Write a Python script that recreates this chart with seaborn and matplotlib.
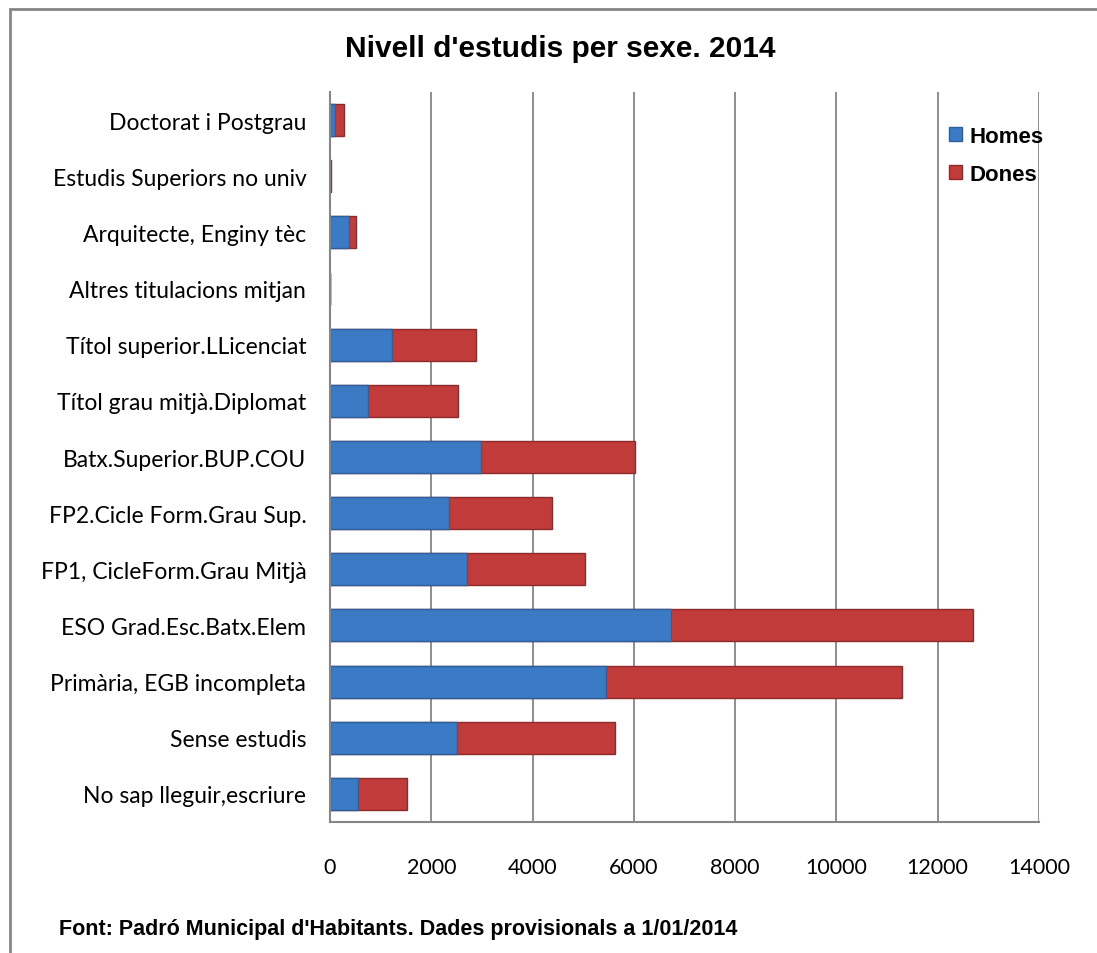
import numpy as np
import pandas as pd
import matplotlib
matplotlib.use('Agg')
import matplotlib.pyplot as plt
from matplotlib.patches import Patch, Rectangle
import seaborn as sns

# data (top to bottom)
categories = [
    "Doctorat i Postgrau",
    "Estudis Superiors no univ",
    "Arquitecte, Enginy tèc",
    "Altres titulacions mitjan",
    "Títol superior.LLicenciat",
    "Títol grau mitjà.Diplomat",
    "Batx.Superior.BUP.COU",
    "FP2.Cicle Form.Grau Sup.",
    "FP1, CicleForm.Grau Mitjà",
    "ESO Grad.Esc.Batx.Elem",
    "Primària, EGB incompleta",
    "Sense estudis",
    "No sap lleguir,escriure",
]
homes = [90, 8, 380, 0, 1220, 760, 2990, 2360, 2710, 6740, 5450, 2505, 550]
dones = [190, 6, 125, 0, 1660, 1770, 3040, 2015, 2325, 5965, 5850, 3115, 980]
x_ticks = [0, 2000, 4000, 6000, 8000, 10000, 12000, 14000]

title = "Nivell d'estudis per sexe. 2014"
footer = "Font: Padró Municipal d'Habitants. Dades provisionals a 1/01/2014"

BLUE = "#3b7ac5"
RED = "#c23b3b"
GREY = "#868686"


def main():
    sns.set_style("white")
    plt.rcParams['font.family'] = ['Lato', 'DejaVu Sans']
    plt.rcParams['text.color'] = 'black'

    df = pd.DataFrame({"cat": categories, "Homes": homes, "Dones": dones})
    df["total"] = df["Homes"] + df["Dones"]

    fig = plt.figure(figsize=(10.97, 9.54), dpi=100)
    ax = fig.add_axes([0.3008, 0.1373, 0.6463, 0.7652])

    sns.barplot(data=df, x="total", y="cat", orient="h", color=RED,
                width=0.57, edgecolor="#8f2a2a", linewidth=1, ax=ax,
                saturation=1)
    sns.barplot(data=df, x="Homes", y="cat", orient="h", color=BLUE,
                width=0.57, edgecolor="#2d5f9a", linewidth=1, ax=ax,
                saturation=1)

    ax.set_xlim(0, 14000)
    ax.set_xticks(x_ticks)
    ax.set_xticklabels([str(t) for t in x_ticks], fontsize=15.5)
    ax.set_xlabel("")
    ax.set_ylabel("")
    ax.set_axisbelow(True)
    ax.xaxis.grid(True, color=GREY, lw=1.3)
    ax.yaxis.grid(False)

    for s in ["top", "right"]:
        ax.spines[s].set_visible(False)
    for s in ["left", "bottom"]:
        ax.spines[s].set_color(GREY)
        ax.spines[s].set_linewidth(1.5)

    n = len(categories)
    ax.set_yticks(np.arange(n))
    ax.set_yticklabels(categories, fontsize=16.5)
    ax.set_yticks(np.arange(n + 1) - 0.5, minor=True)
    ax.tick_params(axis="y", which="major", length=0, pad=17,
                   labelcolor="black")
    ax.tick_params(axis="y", which="minor", length=5, width=1.5, color=GREY)
    ax.tick_params(axis="x", length=6, width=1.5, color=GREY, pad=19,
                   labelcolor="black")

    fig.text(0.511, 0.940, title, ha="center", va="baseline",
             fontsize=21.5, fontweight="bold", family="Liberation Sans")
    fig.text(59 / 1097, 1 - 935 / 954, footer, ha="left", va="baseline",
             fontsize=15.5, fontweight="bold", family="Liberation Sans")

    handles = [Patch(facecolor=BLUE, edgecolor="#2d5f9a"),
               Patch(facecolor=RED, edgecolor="#8f2a2a")]
    fig.legend(handles, ["Homes", "Dones"], loc="upper left",
               bbox_to_anchor=(938 / 1097, 1 - 116 / 954), frameon=False,
               prop={"family": "Liberation Sans", "weight": "bold", "size": 16},
               handlelength=0.6, handleheight=0.6, handletextpad=0.3,
               labelspacing=0.75, borderpad=0)

    fig.add_artist(Rectangle((10 / 1097, -0.5), 2, 0.5 + 1 - 10 / 954,
                             transform=fig.transFigure, fill=False,
                             edgecolor=GREY, lw=2))

    plt.savefig("out.png", dpi=100)


if __name__ == "__main__":
    main()
